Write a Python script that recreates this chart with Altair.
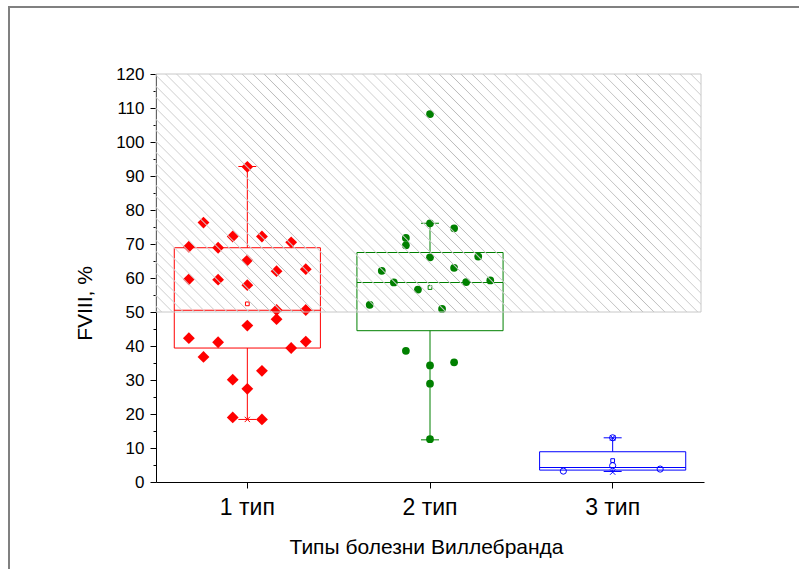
import altair as alt
import pandas as pd

# ---------------- data ----------------
categories = ["1 тип", "2 тип", "3 тип"]
colors = ["#ff0000", "#008000", "#0000ff"]

q1 = [39.4, 44.5, 3.5]
median = [50.5, 58.7, 4.3]
q3 = [68.9, 67.5, 8.9]
mean = [52.4, 57.2, 6.3]
whisker_low = [18.4, 12.4, 3.1]
whisker_high = [92.8, 76.1, 13.0]
cross_low = [18.4, 12.6, 2.9]
cross_high = [92.7, 108.2, 13.0]

type1_values = [92.7, 76.3, 72.2, 72.2, 70.5, 69.2, 68.9, 65.2, 62.0, 62.6,
                59.6, 59.5, 57.9, 50.6, 50.6, 47.9, 46.0, 42.3, 41.1, 39.4,
                41.3, 36.8, 32.7, 30.1, 27.4, 19.0, 18.4]
type1_jitter = [0.0, -0.24, -0.08, 0.08, 0.24, -0.32, -0.16, 0.0, 0.16, 0.32,
                -0.32, -0.16, 0.0, 0.16, 0.32, 0.16, 0.0, -0.32, -0.16, 0.24,
                0.32, -0.24, 0.08, -0.08, 0.0, -0.08, 0.08]

type2_values = [108.2, 76.1, 74.6, 71.8, 69.6, 66.3, 66.1, 63.0, 62.1, 58.7,
                58.8, 59.3, 56.6, 52.1, 50.9, 38.6, 35.2, 34.3, 28.9, 12.6]
type2_jitter = [0.0, 0.0, 0.132, -0.132, -0.132, 0.264, 0.0, 0.132, -0.264, -0.198,
                0.198, 0.33, -0.066, -0.33, 0.066, -0.132, 0.132, 0.0, 0.0, 0.0]

type3_values = [13.0, 4.8, 3.2, 3.8]
type3_jitter = [0.0, 0.0, -0.27, 0.26]

normal_range = [50, 120]

# ---------------- tables ----------------
stats = pd.DataFrame({
    "group": categories, "q1": q1, "median": median, "q3": q3, "mean": mean,
    "wlo": whisker_low, "whi": whisker_high, "xlo": cross_low, "xhi": cross_high,
})
groups = ([categories[0]] * len(type1_values) + [categories[1]] * len(type2_values)
          + [categories[2]] * len(type3_values))
jit = type1_jitter + type2_jitter + type3_jitter
points = pd.DataFrame({
    "group": groups,
    "value": type1_values + type2_values + type3_values,
    "pos": [categories.index(g) + j for g, j in zip(groups, jit)],
})
normal = pd.DataFrame({"lo": [normal_range[0]], "hi": [normal_range[1]]})

# ---------------- layout ----------------
W, H = 548, 408
FONT = "Liberation Sans"

x_scale = alt.Scale(type="band", domain=categories, paddingInner=0, paddingOuter=0)
y_scale = alt.Scale(domain=[0, 120], nice=False, zero=False)
col = alt.Color("group:N", scale=alt.Scale(domain=categories, range=colors), legend=None)
x_plain = alt.X("group:N", scale=x_scale, axis=None)
x_pos = alt.X("pos:Q", scale=alt.Scale(domain=[-0.5, len(categories) - 0.5], nice=False,
                                       zero=False), axis=None)

x_axis = alt.Axis(title="Типы болезни Виллебранда", labelAngle=0, labelFont=FONT,
                  labelFontSize=23, labelColor="black", labelPadding=8, tickSize=6,
                  tickColor="black", domainColor="black", titleFont=FONT,
                  titleFontSize=21, titleFontWeight="normal", titleColor="black",
                  titlePadding=17, titleX=270, grid=False)
y_axis = alt.Axis(title="FVIII, %", orient="left", values=list(range(0, 121, 10)),
                  labelFont=FONT, labelFontSize=17, labelColor="black", labelPadding=6,
                  tickSize=6, tickColor="black", domainColor="black", titleFont=FONT,
                  titleFontSize=21, titleFontWeight="normal", titleColor="black",
                  titleX=-71, titleY=229, titleBaseline="middle", titleAngle=270,
                  grid=False)
y_minor = alt.Axis(title=None, orient="left", values=list(range(5, 120, 10)), labels=False,
                   domain=False, tickSize=3, tickColor="black", grid=False)

# frame around the figure
frame = alt.Chart(pd.DataFrame({"a": [0]})).mark_rect(
    fillOpacity=0, stroke="#808080", strokeWidth=2
).encode(x=alt.value(-147), x2=alt.value(700), y=alt.value(-67), y2=alt.value(600))

boxes = alt.Chart(stats).mark_bar(width={"band": 0.8}, fillOpacity=0, strokeWidth=1).encode(
    x=alt.X("group:N", scale=x_scale, axis=x_axis),
    y=alt.Y("q1:Q", scale=y_scale, axis=y_axis),
    y2="q3:Q",
    stroke=col,
)
minor = alt.Chart(stats).mark_tick(opacity=0).encode(
    x=x_plain, y=alt.Y("q1:Q", scale=y_scale, axis=y_minor)
)
wl = alt.Chart(stats).mark_rule(strokeWidth=1).encode(
    x=x_plain, y=alt.Y("wlo:Q", scale=y_scale, axis=None), y2="q1:Q", color=col)
wh = alt.Chart(stats).mark_rule(strokeWidth=1).encode(
    x=x_plain, y=alt.Y("q3:Q", scale=y_scale, axis=None), y2="whi:Q", color=col)
cap_lo = alt.Chart(stats).mark_tick(size=18, thickness=1, opacity=1).encode(
    x=x_plain, y=alt.Y("wlo:Q", scale=y_scale, axis=None), color=col)
cap_hi = alt.Chart(stats).mark_tick(size=18, thickness=1, opacity=1).encode(
    x=x_plain, y=alt.Y("whi:Q", scale=y_scale, axis=None), color=col)
med = alt.Chart(stats).mark_tick(size=146, thickness=1, opacity=1).encode(
    x=x_plain, y=alt.Y("median:Q", scale=y_scale, axis=None), color=col)


def pts(group, **mk):
    return alt.Chart(points).transform_filter(alt.datum.group == group).mark_point(
        opacity=1, **mk
    ).encode(x=x_pos, y=alt.Y("value:Q", scale=y_scale, axis=None), color=col)


p1 = pts(categories[0], shape="diamond", filled=True, size=140)
p2 = pts(categories[1], shape="circle", filled=True, size=60)
p3 = pts(categories[2], shape="circle", filled=False, size=38, strokeWidth=1)

means = alt.Chart(stats).mark_point(shape="square", filled=False, size=14, strokeWidth=1,
                                    opacity=1).encode(
    x=x_plain, y=alt.Y("mean:Q", scale=y_scale, axis=None), color=col)
cross_shape = "M-1,-1L1,1M-1,1L1,-1"
xl = alt.Chart(stats).mark_point(shape=cross_shape, filled=False, size=28, strokeWidth=1,
                                 opacity=1).encode(
    x=x_plain, y=alt.Y("xlo:Q", scale=y_scale, axis=None), color=col)
xh = alt.Chart(stats).mark_point(shape=cross_shape, filled=False, size=28, strokeWidth=1,
                                 opacity=1).encode(
    x=x_plain, y=alt.Y("xhi:Q", scale=y_scale, axis=None), color=col)

# hatched normal range (diagonal stripes built with a striped linear gradient)
RH = H * (normal_range[1] - normal_range[0]) / 120.0
t = (W + RH) / (W * W + RH * RH)
gx2, gy2 = t * W, 1 - t * RH
span = (W + RH) / 2 ** 0.5
spacing = 11 / 2 ** 0.5
half = 0.9 / span
stops = [alt.GradientStop(color="rgba(255,255,255,0)", offset=0)]
k = 0
while True:
    c = (k * spacing + 4) / span
    if c + half >= 1:
        break
    stops += [alt.GradientStop(color="rgba(255,255,255,0)", offset=round(c - half, 5)),
              alt.GradientStop(color="#bcbcbc", offset=round(c, 5)),
              alt.GradientStop(color="rgba(255,255,255,0)", offset=round(c + half, 5))]
    k += 1
stops.append(alt.GradientStop(color="rgba(255,255,255,0)", offset=1))
grad = alt.LinearGradient(gradient="linear", stops=stops, x1=0, y1=1,
                          x2=round(gx2, 5), y2=round(gy2, 5))

hatch = alt.Chart(normal).mark_rect(fill=grad, stroke="#c8c8c8", strokeWidth=1).encode(
    x=alt.value(0), x2=alt.value(W - 3),
    y=alt.Y("lo:Q", scale=y_scale, axis=None), y2="hi:Q")

chart = alt.layer(
    frame, boxes, minor, wl, wh, cap_lo, cap_hi, med, p1, p2, p3, means, xl, xh, hatch
).resolve_scale(x="independent").resolve_axis(y="independent", x="independent").properties(
    width=W, height=H,
    autosize=alt.AutoSizeParams(type="none"),
    padding={"left": 156, "top": 74, "right": 95, "bottom": 87},
    background="white",
).configure_view(strokeWidth=0)

chart.save("out.html", embed_options={"renderer": "svg", "actions": False})
